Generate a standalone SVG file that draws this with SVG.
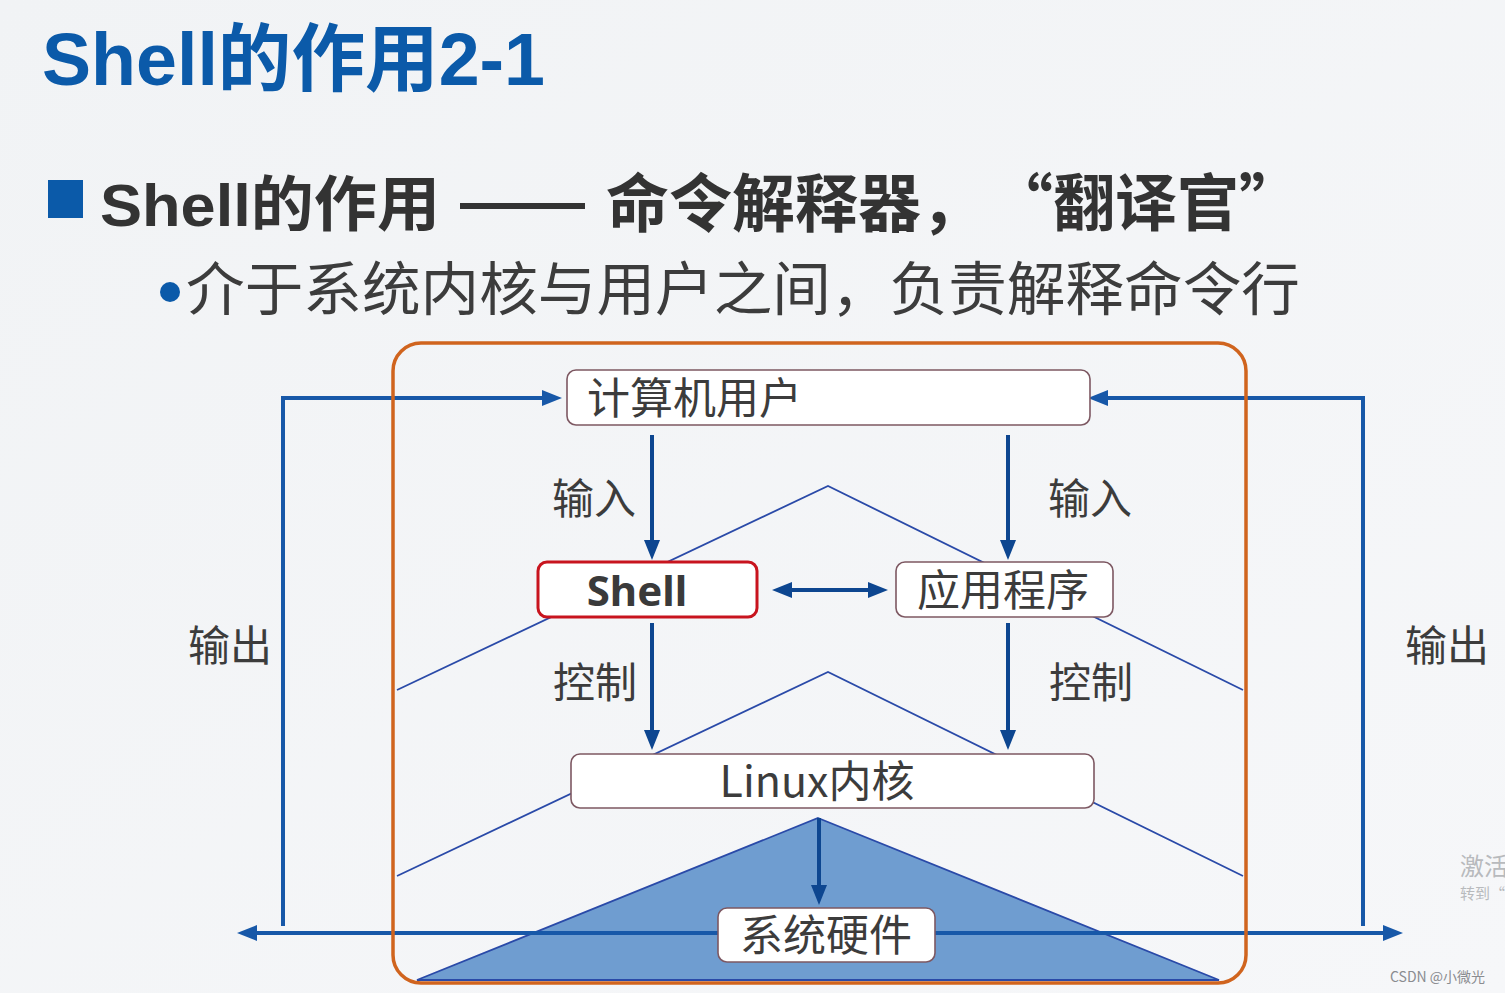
<svg xmlns="http://www.w3.org/2000/svg" width="1505" height="993" viewBox="0 0 1505 993">
<defs>
<style>
.cn{font-family:"Noto Sans CJK SC","Noto Sans",sans-serif;fill:#3c3c3c}
.box{fill:#ffffff;stroke:#7d5862;stroke-width:1.6}
.chev{fill:none;stroke:#2a4aa8;stroke-width:1.8}
.arr{fill:none;stroke:#0d4690;stroke-width:4}
.loop{fill:none;stroke:#1758a8;stroke-width:4}
</style>
<marker id="ah" viewBox="0 0 20 16" refX="10" refY="8" markerWidth="20" markerHeight="16" markerUnits="userSpaceOnUse" orient="auto-start-reverse"><path d="M0,0 L20,8 L0,16 z" fill="#0d4690"/></marker>
<marker id="ahl" viewBox="0 0 20 16" refX="10" refY="8" markerWidth="20" markerHeight="16" markerUnits="userSpaceOnUse" orient="auto-start-reverse"><path d="M0,0 L20,8 L0,16 z" fill="#1758a8"/></marker>
<clipPath id="frame"><rect x="393" y="343" width="853" height="640" rx="28"/></clipPath>
<linearGradient id="bg" x1="0" y1="0" x2="1" y2="1"><stop offset="0" stop-color="#f1f3f5"/><stop offset="1" stop-color="#f6f7f9"/></linearGradient>
</defs>
<rect width="1505" height="993" fill="url(#bg)"/>

<g id="title">
<text x="42" y="85" font-family="'Liberation Sans','Noto Sans CJK SC',sans-serif" font-weight="bold" font-size="74" fill="#0b5aa9" textLength="503" lengthAdjust="spacingAndGlyphs">Shell的作用2-1</text>
</g>
<g id="heading">
<rect x="48" y="180" width="35" height="38" fill="#0b5aa9"/>
<text y="226" font-family="'Liberation Sans','Noto Sans CJK SC',sans-serif" font-weight="bold" font-size="60" fill="#333333"><tspan x="100" textLength="340" lengthAdjust="spacingAndGlyphs">Shell的作用</tspan></text>
<rect x="460" y="203" width="125" height="6" fill="#333333"/>
<text x="606" y="226" font-family="'Noto Sans CJK SC',sans-serif" font-weight="bold" font-size="63" fill="#333333">命令解释器，</text>
<text x="991" y="226" font-family="'Noto Sans CJK SC',sans-serif" font-weight="bold" font-size="62" fill="#333333">“翻译官”</text>
</g>
<g id="bullet">
<circle cx="170" cy="292" r="10" fill="#0b5aa9"/>
<text x="186" y="310" class="cn" font-size="58" textLength="1114" lengthAdjust="spacingAndGlyphs">介于系统内核与用户之间，负责解释命令行</text>
</g>

<g id="layers" clip-path="url(#frame)">
<polygon points="818,818 1219,980 417,980" fill="#6f9dd0" stroke="#2a4aa8" stroke-width="1.8"/>
<polyline class="chev" points="397,690 828,486 1243,690"/>
<polyline class="chev" points="397,876 828,672 1243,876"/>
</g>

<g id="connectors">
<path class="loop" d="M283,926 V398 H552" marker-end="url(#ahl)"/>
<path class="loop" d="M1363,926 V398 H1098" marker-end="url(#ahl)"/>
<path class="loop" d="M247,933 H1393" marker-start="url(#ahl)" marker-end="url(#ahl)"/>
<path class="arr" d="M652,435 V550" marker-end="url(#ah)"/>
<path class="arr" d="M1008,435 V550" marker-end="url(#ah)"/>
<path class="arr" d="M652,623 V740" marker-end="url(#ah)"/>
<path class="arr" d="M1008,623 V740" marker-end="url(#ah)"/>
<path class="arr" d="M819,818 V895" marker-end="url(#ah)"/>
<path class="arr" d="M782,590 H878" marker-start="url(#ah)" marker-end="url(#ah)"/>
</g>

<g id="frame-border">
<rect x="393" y="343" width="853" height="640" rx="28" fill="none" stroke="#d0641e" stroke-width="3.5"/>
</g>

<g id="node-user">
<rect class="box" x="567" y="370" width="523" height="55" rx="9"/>
<text class="cn" x="587" y="414" font-size="43">计算机用户</text>
</g>
<g id="node-shell">
<rect x="538" y="562" width="219" height="55" rx="9" fill="#ffffff" stroke="#c8141e" stroke-width="3"/>
<text x="637" y="606" text-anchor="middle" font-family="'Noto Sans','Open Sans',sans-serif" font-weight="bold" font-size="42" fill="#3a3a3a">Shell</text>
</g>
<g id="node-app">
<rect class="box" x="896" y="562" width="217" height="55" rx="9"/>
<text class="cn" x="917" y="606" font-size="43">应用程序</text>
</g>
<g id="node-kernel">
<rect class="box" x="571" y="754" width="523" height="54" rx="9"/>
<text class="cn" x="817" y="797" text-anchor="middle" font-size="43">Linux内核</text>
</g>
<g id="node-hw">
<rect class="box" x="718" y="908" width="217" height="54" rx="9"/>
<text class="cn" x="826" y="951" text-anchor="middle" font-size="43">系统硬件</text>
</g>

<g id="labels">
<text class="cn" x="552" y="514" font-size="42">输入</text>
<text class="cn" x="1048" y="514" font-size="42">输入</text>
<text class="cn" x="553" y="698" font-size="42">控制</text>
<text class="cn" x="1049" y="698" font-size="42">控制</text>
<text class="cn" x="188" y="661" font-size="42">输出</text>
<text class="cn" x="1405" y="661" font-size="42">输出</text>
</g>

<g id="watermark">
<text x="1460" y="875" font-family="'Noto Sans CJK SC',sans-serif" font-size="24" fill="#b8babd">激活</text>
<text x="1460" y="899" font-family="'Noto Sans CJK SC',sans-serif" font-size="15" fill="#b8babd">转到“</text>
<text x="1390" y="982" font-family="'Noto Sans CJK SC',sans-serif" font-size="14" fill="#8a8c90">CSDN @小微光</text>
</g>
</svg>
